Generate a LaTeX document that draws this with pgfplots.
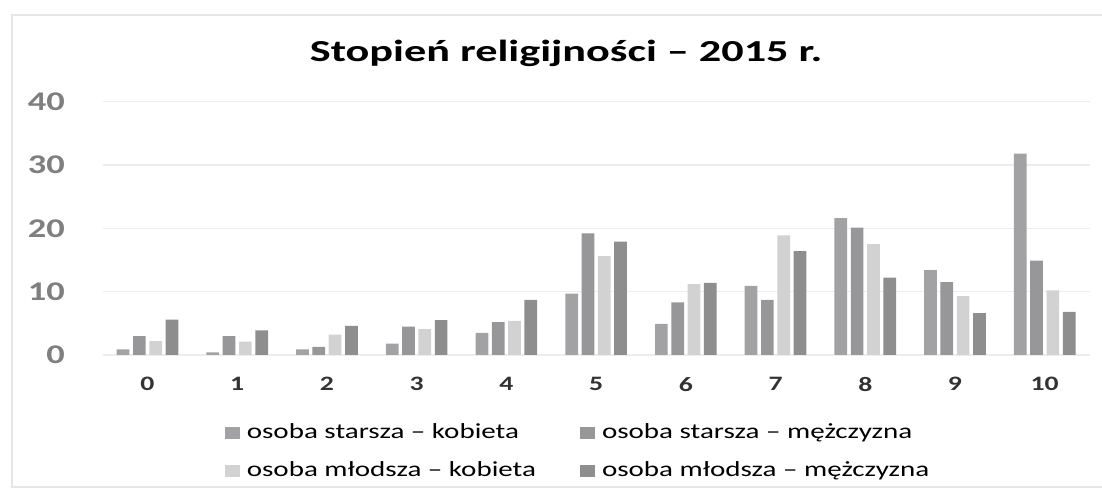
\documentclass[border=0pt]{standalone}
\usepackage{fontspec}
\usepackage{pgfplots}
\pgfplotsset{compat=1.18}
\setmainfont{Carlito}
\newfontfamily\wfont[FakeStretch=1.35]{Carlito}
\newfontfamily\tfont[FakeStretch=1.45]{Carlito}
\definecolor{sA}{HTML}{A2A2A4}
\definecolor{sB}{HTML}{979799}
\definecolor{sC}{HTML}{D2D2D2}
\definecolor{sD}{HTML}{8E8E8E}
\definecolor{gridgray}{HTML}{EDEDED}
\definecolor{framegray}{HTML}{E6E6E6}
\definecolor{ytick}{HTML}{7F7F7F}
\definecolor{xtick}{HTML}{333333}
\begin{document}
\begin{tikzpicture}[x=1pt,y=1pt]
\path[use as bounding box] (0,0) rectangle (1102,489);
\draw[framegray, line width=2pt] (1110,474) -- (12,474) -- (12,2) -- (1110,2);
\node[anchor=base, inner sep=0pt] at (566,427) {\tfont\bfseries\fontsize{30.5}{32}\selectfont Stopień religijności – 2015 r.};
\begin{axis}[
  at={(102.65pt,134pt)}, anchor=south west,
  scale only axis, width=986.9pt, height=253.3pt,
  xmin=-0.5, xmax=10.5, ymin=0, ymax=40,
  xtick={0,...,10}, ytick={0,10,20,30,40},
  ymajorgrids, grid style={gridgray, line width=1.2pt},
  axis line style={draw=none},
  major tick length=0pt,
  ybar=3.6pt, bar width=12.7pt,
  every axis plot/.append style={draw=none},
  yticklabel style={anchor=east, inner sep=0pt, xshift=-37.6pt, text=ytick,
    font=\wfont\bfseries\fontsize{27}{27}\selectfont},
  xticklabel style={anchor=north, inner sep=0pt, yshift=-22pt, text=xtick,
    font=\wfont\bfseries\fontsize{20.5}{20.5}\selectfont},
  /pgf/number format/assume math mode=true,
  legend columns=2,
  legend style={at={(0,0)}, anchor=north west, xshift=122pt, yshift=-68pt,
    draw=none, fill=none, inner sep=0pt,
    font=\wfont\fontsize{21.5}{21.5}\selectfont,
    nodes={inner sep=0pt, text height=15pt, text depth=5pt, anchor=west},
    /tikz/every odd column/.style={column sep=7pt},
    /tikz/every even column/.style={column sep=44pt},
    row sep=18pt},
  legend cell align=left,
  legend image code/.code={\fill[#1] (0pt,-6pt) rectangle (15pt,6pt);},
]
\addplot[fill=sA] coordinates {(0,0.9) (1,0.4) (2,0.9) (3,1.8) (4,3.5) (5,9.7) (6,4.9) (7,10.9) (8,21.6) (9,13.4) (10,31.8)};
\addplot[fill=sB] coordinates {(0,3.0) (1,3.0) (2,1.3) (3,4.5) (4,5.2) (5,19.2) (6,8.3) (7,8.7) (8,20.1) (9,11.5) (10,14.9)};
\addplot[fill=sC] coordinates {(0,2.2) (1,2.1) (2,3.2) (3,4.1) (4,5.4) (5,15.6) (6,11.2) (7,18.9) (8,17.5) (9,9.3) (10,10.2)};
\addplot[fill=sD] coordinates {(0,5.6) (1,3.9) (2,4.6) (3,5.5) (4,8.7) (5,17.9) (6,11.4) (7,16.4) (8,12.2) (9,6.6) (10,6.8)};
\legend{osoba starsza – kobieta, osoba starsza – mężczyzna, osoba młodsza – kobieta, osoba młodsza – mężczyzna}
\end{axis}
\end{tikzpicture}
\end{document}
